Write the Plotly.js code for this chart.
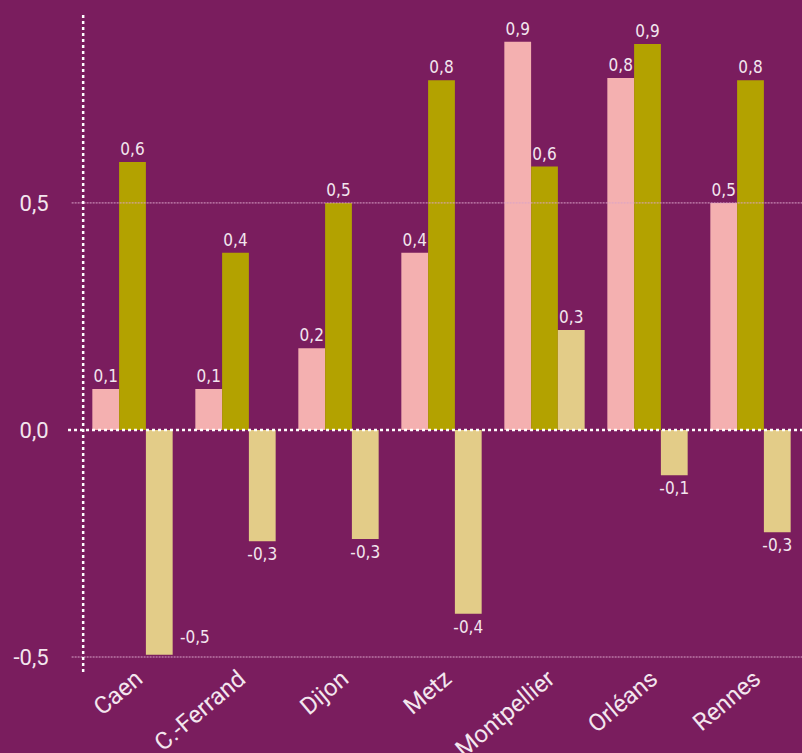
<!DOCTYPE html>
<html><head><meta charset="utf-8">
<script src="https://cdn.plot.ly/plotly-3.0.1.min.js"></script>
<style>html,body{margin:0;padding:0;background:#7A1D5E;}#chart{width:802px;height:753px;}</style>
</head><body><div id="chart"></div>
<script>
const categories = ['Caen', 'C.-Ferrand', 'Dijon', 'Metz', 'Montpellier', 'Orléans', 'Rennes'];
const seriesA = [0.09, 0.09, 0.18, 0.39, 0.855, 0.775, 0.50];
const seriesB = [0.59, 0.39, 0.50, 0.77, 0.58, 0.85, 0.77];
const seriesC = [-0.495, -0.245, -0.24, -0.405, 0.22, -0.10, -0.225];
const labelsA = ['0,1', '0,1', '0,2', '0,4', '0,9', '0,8', '0,5'];
const labelsB = ['0,6', '0,4', '0,5', '0,8', '0,6', '0,9', '0,8'];
const labelsC = ['-0,5', '-0,3', '-0,3', '-0,4', '0,3', '-0,1', '-0,3'];
const yTickVals = [-0.5, 0, 0.5];
const yTickText = ['-0,5', '0,0', '0,5'];

const BG = '#7A1D5E';
const labelFont = {family: '"DejaVu Sans Condensed", "Liberation Sans Narrow", Roboto, sans-serif', size: 17, color: '#F3E6EE'};
const bargap = 0.22;
const barW = (1 - bargap) / 3;

// Caen's beige label is placed beside the bar (index 0)
const specialIdx = 0;
const textC = labelsC.map((t, i) => i === specialIdx ? '' : t);

function bar(name, y, text, color) {
  return {type: 'bar', name: name, x: categories, y: y, text: text,
    textposition: 'outside', textfont: labelFont, marker: {color: color},
    constraintext: 'none', cliponaxis: false, hoverinfo: 'x+y'};
}

const data = [
  bar('Série 1', seriesA, labelsA, '#F4B0B0'),
  bar('Série 2', seriesB, labelsB, '#B3A200'),
  bar('Série 3', seriesC, textC, '#E3CC88')
];

const layout = {
  width: 802, height: 753,
  paper_bgcolor: BG, plot_bgcolor: BG,
  margin: {l: 81, r: 0, t: 14, b: 81},
  barmode: 'group', bargap: bargap, bargroupgap: 0,
  showlegend: false,
  uniformtext: {mode: false},
  xaxis: {
    type: 'category', range: [-0.5, 6.5], showgrid: false, zeroline: false, showline: false,
    ticks: '', tickangle: -40, automargin: false, ticklabelstandoff: -13, ticklabelshift: 4,
    tickfont: {family: 'Roboto, "Open Sans", sans-serif', size: 24, color: '#F3E6EE'}
  },
  yaxis: {
    range: [-0.533, 0.916], tickvals: yTickVals, ticktext: yTickText,
    showgrid: false, zeroline: false, showline: false,
    ticks: 'outside', ticklen: 27, tickcolor: 'rgba(0,0,0,0)',
    tickfont: {family: 'Roboto, "Open Sans", sans-serif', size: 22, color: '#F3E6EE'}
  },
  shapes: [
    {type: 'line', xref: 'paper', yref: 'y', x0: -0.013, x1: 1, y0: 0.5, y1: 0.5,
     line: {color: '#D9A3C8', width: 1, dash: '2px,1px'}},
    {type: 'line', xref: 'paper', yref: 'y', x0: -0.013, x1: 1, y0: -0.5, y1: -0.5,
     line: {color: '#D9A3C8', width: 1, dash: '2px,1px'}},
    {type: 'line', xref: 'paper', yref: 'y', x0: -0.018, x1: 1, y0: 0, y1: 0,
     line: {color: '#FFFFFF', width: 2.5, dash: 'dot'}},
    {type: 'line', xref: 'paper', yref: 'paper', x0: 0.003, x1: 0.003, y0: 0, y1: 1,
     line: {color: '#FFFFFF', width: 2.5, dash: 'dot'}}
  ],
  annotations: [
    {xref: 'x', yref: 'y', x: specialIdx + barW + barW / 2, y: seriesC[specialIdx],
     text: labelsC[specialIdx], showarrow: false, xanchor: 'left', yanchor: 'bottom',
     xshift: 5, yshift: 6, font: labelFont}
  ]
};

Plotly.newPlot('chart', data, layout, {displayModeBar: false, staticPlot: true});
</script></body></html>
